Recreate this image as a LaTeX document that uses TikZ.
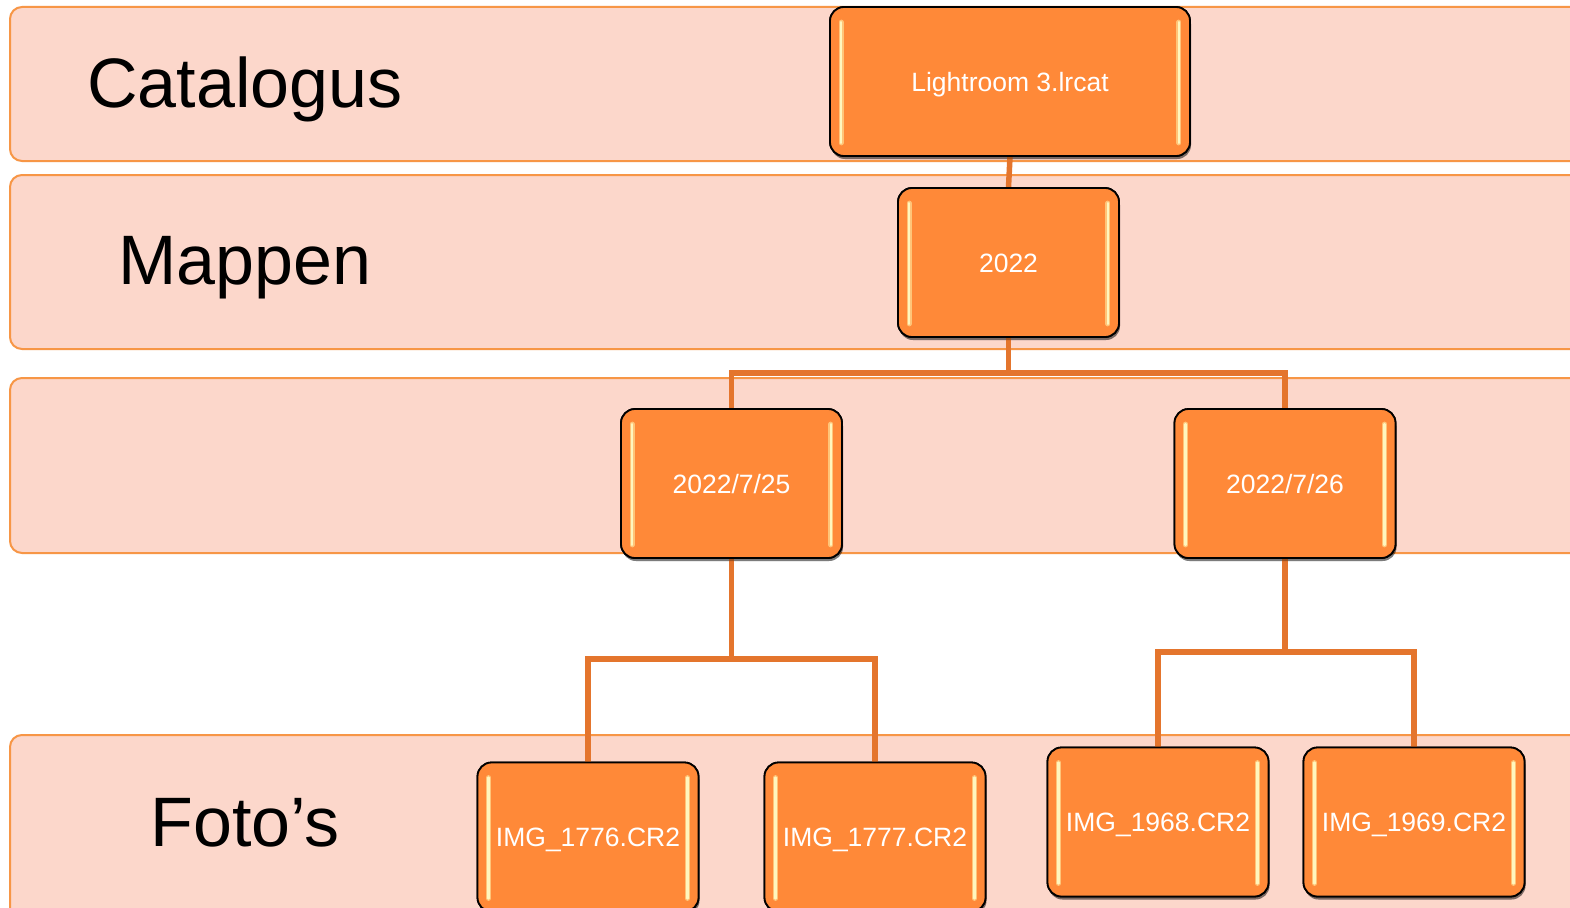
\documentclass[tikz,border=0pt]{standalone}
\usepackage{fontspec}
\setmainfont{Liberation Sans}
\usetikzlibrary{shadows}
\definecolor{bandfill}{RGB}{252,215,203}
\definecolor{bandline}{RGB}{247,150,70}
\definecolor{boxfill}{RGB}{255,137,56}
\definecolor{conncol}{RGB}{228,117,45}
\definecolor{hlglow}{RGB}{255,196,120}
\definecolor{hlcore}{RGB}{255,246,190}
\tikzset{
  band/.style={fill=bandfill, draw=bandline, line width=2pt, rounded corners=12pt},
  lvl/.style={font=\fontsize{70}{80}\selectfont, text=black, inner sep=0pt,
    text height=50pt, text depth=0pt},
  box/.style={draw=black, line width=1.8pt, fill=boxfill, rounded corners=14pt,
    minimum height=149pt, minimum width=221pt, text=white,
    font=\fontsize{26.5}{30}\selectfont, inner sep=0pt,
    text height=19pt, text depth=0pt,
    drop shadow={shadow xshift=1pt, shadow yshift=-3pt, opacity=0.3, fill=black}},
  conn/.style={draw=conncol, line width=5.5pt},
  hlg/.style={line width=5pt, draw=hlglow, line cap=round},
  hlc/.style={line width=2.4pt, draw=hlcore, line cap=round},
}
\newcommand{\boxhl}[1]{%
  \foreach \s/\a/\b in {12/north west/south west, -12/north east/south east}{
    \draw[hlg] ([xshift=\s pt,yshift=-16pt]#1.\a) -- ([xshift=\s pt,yshift=14pt]#1.\b);
    \draw[hlc] ([xshift=\s pt,yshift=-16pt]#1.\a) -- ([xshift=\s pt,yshift=14pt]#1.\b);
  }}
\begin{document}
\begin{tikzpicture}[x=1pt,y=-1pt]
\clip (0,0) rectangle (1570,907);
\fill[white] (0,0) rectangle (1570,907);
% bands
\draw[band] (10,7) rectangle (1600,161);
\draw[band] (10,175) rectangle (1600,349);
\draw[band] (10,378) rectangle (1600,553);
\draw[band] (10,735) rectangle (1600,960);
% level labels
\node[lvl] (lcat) at (245,82.5) {Catalogus};
\node[lvl] (lmap) at (245,259) {Mappen};
\node[lvl] (lfot) at (245,821) {Foto’s};
% junction coordinates
\coordinate (j1) at (1008.5,373);
\coordinate (j2) at (731.5,659);
\coordinate (j3) at (1285,652);
% boxes
\path (1010,81.5) node[box, minimum width=360pt] (lr) {Lightroom 3.lrcat};
\path (1008.5,262.5) node[box] (y22) {2022};
\path (731.5,483.5) node[box] (d25) {2022/7/25};
\path (1285,483.5) node[box] (d26) {2022/7/26};
\path (588,837) node[box] (i76) {IMG\_1776.CR2};
\path (875,837) node[box] (i77) {IMG\_1777.CR2};
\path (1158,822) node[box] (i68) {IMG\_1968.CR2};
\path (1414,822) node[box] (i69) {IMG\_1969.CR2};
% connectors
\draw[conn] (lr.south) -- (y22.north);
\draw[conn] (y22.south) -- (j1) -| (d25.north);
\draw[conn] (j1) -| (d26.north);
\draw[conn] (d25.south) -- (j2) -| (i76.north);
\draw[conn] (j2) -| (i77.north);
\draw[conn] (d26.south) -- (j3) -| (i68.north);
\draw[conn] (j3) -| (i69.north);
% redraw boxes on top of connectors
\path (1010,81.5) node[box, minimum width=360pt] {Lightroom 3.lrcat};
\path (1008.5,262.5) node[box] {2022};
\path (731.5,483.5) node[box] {2022/7/25};
\path (1285,483.5) node[box] {2022/7/26};
\path (588,837) node[box] {IMG\_1776.CR2};
\path (875,837) node[box] {IMG\_1777.CR2};
\path (1158,822) node[box] {IMG\_1968.CR2};
\path (1414,822) node[box] {IMG\_1969.CR2};
% highlights
\boxhl{lr}\boxhl{y22}\boxhl{d25}\boxhl{d26}\boxhl{i76}\boxhl{i77}\boxhl{i68}\boxhl{i69}
\end{tikzpicture}
\end{document}
